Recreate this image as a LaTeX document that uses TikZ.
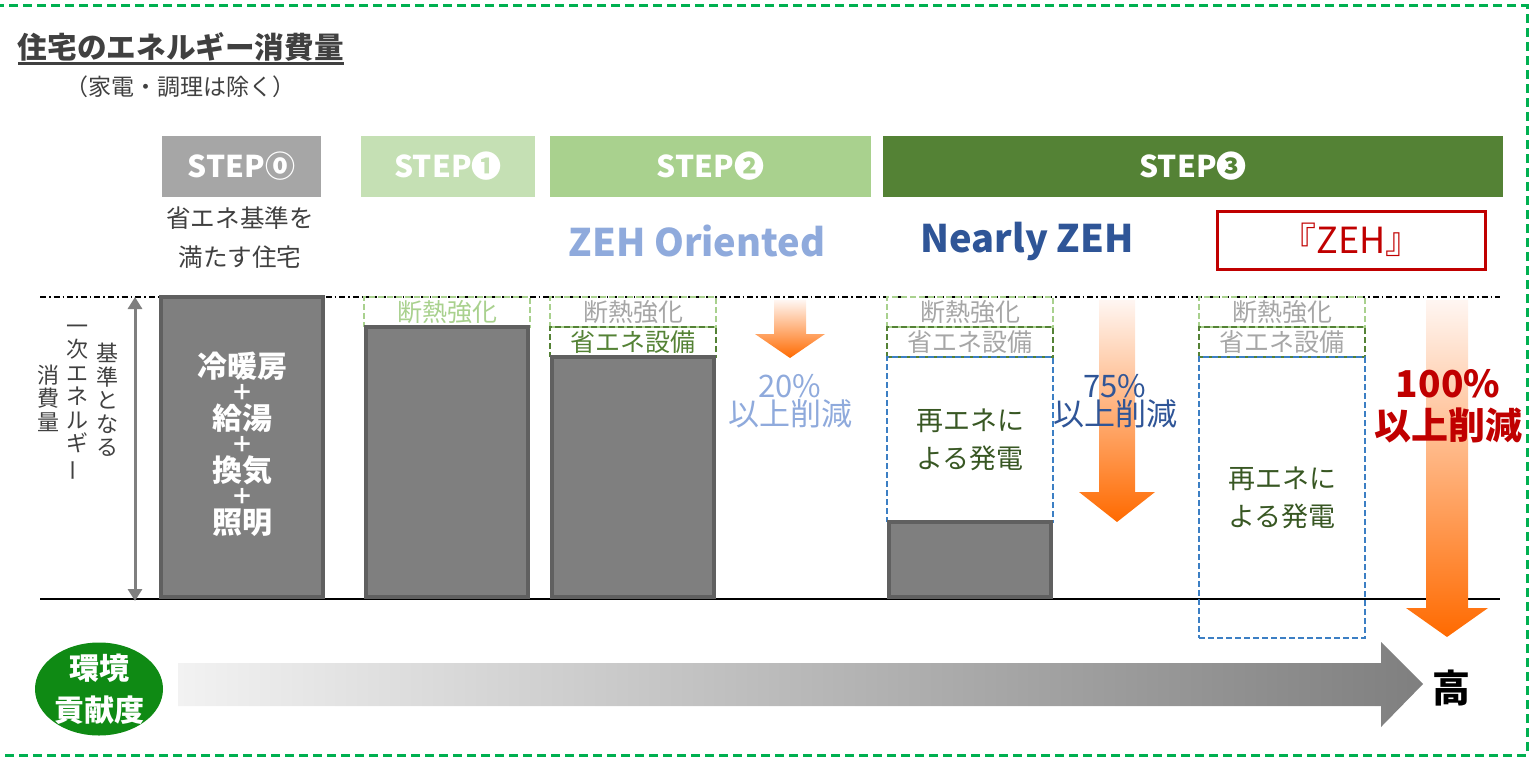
\documentclass[tikz,border=0pt]{standalone}
\usepackage{fontspec}
\newfontfamily\jp{Noto Sans CJK JP}
\usetikzlibrary{positioning,arrows.meta,shapes.geometric}
\definecolor{titlegray}{HTML}{404040}
\definecolor{stepzero}{HTML}{A6A6A6}
\definecolor{stepone}{HTML}{C5E0B4}
\definecolor{steptwo}{HTML}{A9D18E}
\definecolor{stepthree}{HTML}{548235}
\definecolor{barfill}{HTML}{7F7F7F}
\definecolor{barline}{HTML}{606060}
\definecolor{txtgray}{HTML}{A6A6A6}
\definecolor{lgreen}{HTML}{A9D18E}
\definecolor{dgreen}{HTML}{548235}
\definecolor{pvgreen}{HTML}{385723}
\definecolor{pvblue}{HTML}{3C7FC4}
\definecolor{orient}{HTML}{8FAADC}
\definecolor{nearlyblue}{HTML}{2F5597}
\definecolor{zehred}{HTML}{C00000}
\definecolor{ecogreen}{HTML}{0F8A14}
\definecolor{bordergreen}{HTML}{00B050}
\definecolor{arrowtop}{HTML}{FFF6F2}
\definecolor{arrowbot}{HTML}{FF6A00}
\definecolor{lowgray}{HTML}{F2F2F2}
\definecolor{highgray}{HTML}{7F7F7F}

\begin{document}
\begin{tikzpicture}[x=0.5pt,y=-0.5pt,
  every node/.style={font=\jp, inner sep=0pt, outer sep=0pt},
  stepbox/.style={fill=#1, text=white, font=\jp\bfseries\fontsize{15}{15}\selectfont, minimum height=30.5pt, anchor=north west},
  bar/.style={fill=barfill, draw=barline, line width=2pt, minimum width=81pt},
  bartext/.style={text=white, font=\jp\bfseries\fontsize{15}{15}\selectfont, text height=13pt, text depth=2pt},
  barplus/.style={text=white, font=\jp\bfseries\fontsize{11}{11}\selectfont, text height=9.5pt, text depth=1.5pt},
  addbox/.style={draw=#1, dash pattern=on 3pt off 1.5pt, line width=0.75pt, minimum width=83pt, minimum height=15pt, font=\jp\fontsize{12.5}{12.5}\selectfont},
  pvtext/.style={text=pvgreen, align=center, font=\jp\fontsize{13.5}{19}\selectfont},
  vtext/.style={align=center, text=titlegray, font=\jp\fontsize{11}{11.7}\selectfont}]

  \useasboundingbox (0,0) rectangle (1534,765);
  \draw[bordergreen, line width=1.5pt, dash pattern=on 4.5pt off 2.5pt] (-2,6) rectangle (1527,755);

  \node[font=\jp\bfseries\fontsize{14.8}{15}\selectfont, text=titlegray, anchor=west] (title) at (18,47) {住宅のエネルギー消費量};
  \draw[titlegray, line width=1.2pt] ([yshift=-1pt]title.south west) -- ([yshift=-1pt]title.south east);
  \node[font=\jp\fontsize{11.5}{12}\selectfont, text=titlegray] (sub) at (180,87) {（家電・調理は除く）};

  \node[stepbox=stepzero, minimum width=79.5pt] (s0) at (162,136) {STEP⓪};
  \node[stepbox=stepone, minimum width=87pt] (s1) at (361,136) {STEP❶};
  \node[stepbox=steptwo, minimum width=160.5pt] (s2) at (550,136) {STEP❷};
  \node[stepbox=stepthree, minimum width=310pt] (s3) at (883,136) {STEP❸};

  \node[align=center, text=titlegray, font=\jp\fontsize{12.3}{19.5}\selectfont] (std) at (240,238) {省エネ基準を\\満たす住宅};
  \node[text=orient, font=\jp\bfseries\fontsize{19}{19}\selectfont] (zo) at (697,241) {ZEH Oriented};
  \node[text=nearlyblue, font=\jp\bfseries\fontsize{19}{19}\selectfont] (nz) at (1027,241) {Nearly ZEH};
  \node[draw=zehred, line width=1.5pt, minimum width=134pt, minimum height=29pt, text=zehred, font=\jp\fontsize{18}{18}\selectfont] (zeh) at (1351,240) {『ZEH』};

  \draw[dash pattern=on 3pt off 1.5pt on 0.8pt off 1.5pt, line width=0.6pt] (40,297) -- (1500,297);
  \draw[line width=0.8pt] (40,599) -- (1500,599);

  \coordinate (lvtop) at (135,297);
  \coordinate (lvbot) at (135,601);
  \draw[{Triangle[width=7pt,length=6pt]}-{Triangle[width=7pt,length=6pt]}, barfill, line width=1.5pt] (lvtop) -- (lvbot);
  \node[vtext] (v1) at (107,400) {基\\準\\と\\な\\る};
  \node[vtext] (v2) at (77,403) {一\\次\\エ\\ネ\\ル\\ギ\\\rotatebox[origin=c]{90}{ー}};
  \node[vtext] (v3) at (48,398) {消\\費\\量};

  \node[bar, anchor=north, minimum height=150pt] (bar0) at (242,297) {};
  \node[barplus] (plus2) at (242,444) {＋};
  \node[bartext, above=0pt of plus2] (hot) {給湯};
  \node[barplus, above=0pt of hot] (plus1) {＋};
  \node[bartext, above=0pt of plus1] (heat) {冷暖房};
  \node[bartext, below=0pt of plus2] (vent) {換気};
  \node[barplus, below=0pt of vent] (plus3) {＋};
  \node[bartext, below=0pt of plus3] (light) {照明};

  \node[addbox=lgreen, text=lgreen, anchor=north] (ins1) at (447,297) {断熱強化};
  \node[bar, below=0pt of ins1, minimum height=135pt] (bar1) {};

  \node[addbox=lgreen, text=txtgray, anchor=north] (ins2) at (633,297) {断熱強化};
  \node[addbox=dgreen, text=dgreen, below=0pt of ins2] (eq2) {省エネ設備};
  \node[bar, below=0pt of eq2, minimum height=120pt] (bar2) {};

  \node[addbox=lgreen, text=txtgray, anchor=north] (ins3) at (970,297) {断熱強化};
  \node[addbox=dgreen, text=txtgray, below=0pt of ins3] (eq3) {省エネ設備};
  \node[addbox=pvblue, pvtext, minimum height=82.5pt, below=0pt of eq3] (pv3) {再エネに\\よる発電};
  \node[bar, below=0pt of pv3, minimum height=37.5pt] (bar3) {};

  \node[addbox=lgreen, text=txtgray, anchor=north] (ins4) at (1282,297) {断熱強化};
  \node[addbox=dgreen, text=txtgray, below=0pt of ins4] (eq4) {省エネ設備};
  \node[addbox=pvblue, pvtext, minimum height=140.5pt, below=0pt of eq4] (pv4) {再エネに\\よる発電};

  \foreach \cx/\yt/\yn/\yb/\hs/\hh in {790/300/334/358/16/35, 1117/300/492/522/18/38, 1447/300/608/637/21/41}
    \shade[top color=arrowtop, bottom color=arrowbot] (\cx-\hs,\yt) -- (\cx+\hs,\yt) -- (\cx+\hs,\yn) -- (\cx+\hh,\yn) -- (\cx,\yb) -- (\cx-\hh,\yn) -- (\cx-\hs,\yn) -- cycle;

  \node[align=center, text=orient, font=\jp\fontsize{15.5}{14}\selectfont] (cut20) at (790,401) {20\%\\以上削減};
  \node[align=center, text=nearlyblue, font=\jp\fontsize{15.5}{14}\selectfont] (cut75) at (1115,401) {75\%\\以上削減};
  \node[align=center, text=zehred, font=\jp\bfseries\fontsize{18.5}{21}\selectfont] (cut100) at (1448,406) {100\%\\以上削減};

  \node[ellipse, fill=ecogreen, minimum width=64pt, minimum height=46.5pt] (eco) at (99,689) {};
  \node[align=center, text=white, font=\jp\bfseries\fontsize{15}{21}\selectfont] (ecotxt) at (eco) {環境\\貢献度};
  \shade[left color=lowgray, right color=highgray] (178,663) -- (1381,663) -- (1381,642) -- (1423,684) -- (1381,727) -- (1381,706) -- (178,706) -- cycle;
  \node[font=\jp\bfseries\fontsize{19}{19}\selectfont] (high) at (1451,688) {高};
\end{tikzpicture}
\end{document}
